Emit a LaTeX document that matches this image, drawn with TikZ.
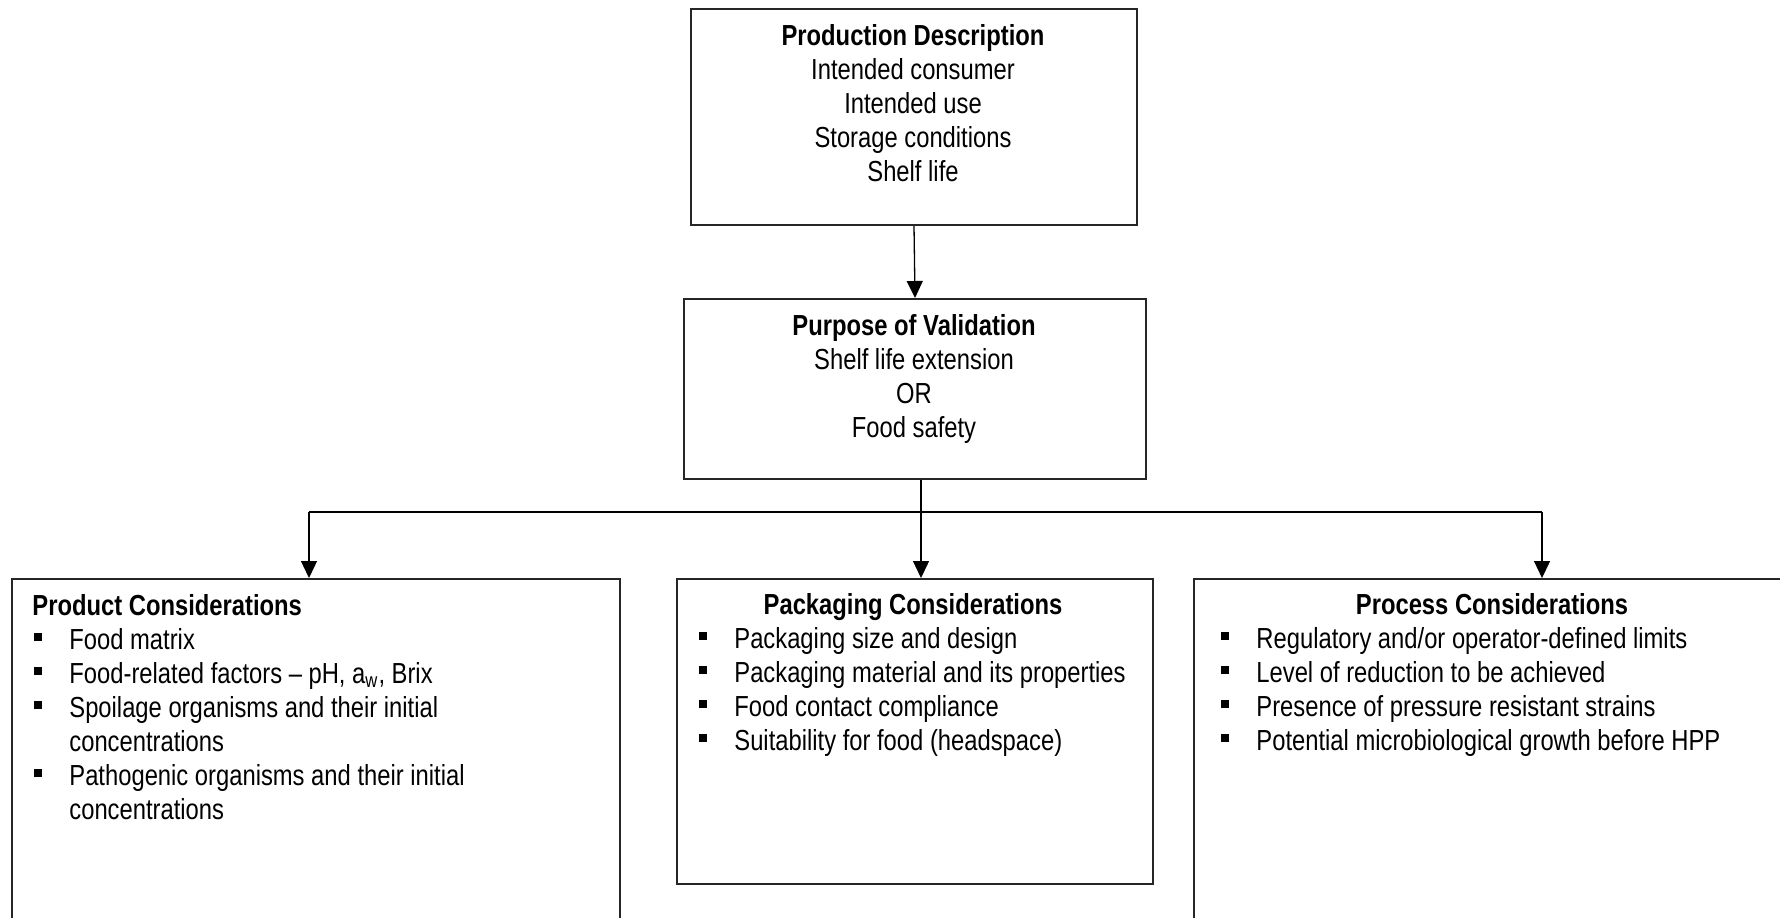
\documentclass[tikz,border=0pt]{standalone}
\usepackage{fontspec}
\setmainfont[FakeStretch=0.82]{Liberation Sans}
\usetikzlibrary{arrows.meta}

\newcommand{\bul}{\makebox[18pt][l]{\hspace{0.5pt}\rule[4pt]{4pt}{4pt}}}
\newcommand{\cont}{\hspace*{18pt}}

\begin{document}
\begin{tikzpicture}[x=0.5pt, y=-0.5pt,
    box/.style={draw=black!85, line width=1pt, anchor=north west, inner sep=0pt},
    txt/.style={font=\fontsize{14.5}{17}\selectfont, inner sep=0pt, anchor=base},
    head/.style={txt, font=\fontsize{14.5}{17}\selectfont\bfseries},
    link/.style={line width=0.65pt, -{Triangle[length=8.5pt, width=8pt]}}]
    \useasboundingbox (0,0) rectangle (1780,917);

    % Production description
    \node[box, minimum width=223pt, minimum height=108pt] (desc) at (690,8) {};
    \node[head] (desctitle) at (913,45) {Production Description};
    \foreach \t [count=\i] in {Intended consumer, Intended use, Storage conditions, Shelf life}
        \node[txt] at (913,45+34*\i) {\t};

    % Purpose of validation
    \node[box, minimum width=231pt, minimum height=90pt] (purp) at (683,298) {};
    \node[head] (purptitle) at (914,335) {Purpose of Validation};
    \foreach \t [count=\i] in {Shelf life extension, OR, Food safety}
        \node[txt] at (914,335+34*\i) {\t};

    % Three considerations
    \node[box, minimum width=304pt, minimum height=180pt] (prod) at (11,578) {};
    \node[head, anchor=base west] (prodtitle) at (32,615) {Product Considerations};
    \foreach \t [count=\i] in {{\bul Food matrix},
            {\bul Food-related factors – pH, a\textsubscript{w}, Brix},
            {\bul Spoilage organisms and their initial},
            {\cont concentrations},
            {\bul Pathogenic organisms and their initial},
            {\cont concentrations}}
        \node[txt, anchor=base west] at (33,615+34*\i) {\t};

    \node[box, minimum width=238pt, minimum height=152.5pt] (pack) at (676,578) {};
    \node[head] (packtitle) at (913,614) {Packaging Considerations};
    \foreach \t [count=\i] in {Packaging size and design, Packaging material and its properties,
            Food contact compliance, Suitability for food (headspace)}
        \node[txt, anchor=base west] at (698,614+34*\i) {\bul\t};

    \node[box, minimum width=300pt, minimum height=180pt] (proc) at (1193,578) {};
    \node[head] (proctitle) at (1492,614) {Process Considerations};
    \foreach \t [count=\i] in {Regulatory and/or operator-defined limits, Level of reduction to be achieved,
            Presence of pressure resistant strains, Potential microbiological growth before HPP}
        \node[txt, anchor=base west] at (1220,614+34*\i) {\bul\t};

    % Connectors
    \coordinate (split) at (921,512);
    \coordinate (left) at (309,512);
    \coordinate (right) at (1542,512);
    \draw[link] (desc.south) -- (purp.north);
    \draw[line width=0.65pt] (left) -- (right);
    \draw[link] (split |- purp.south) -- (split |- pack.north);
    \draw[link] (left) -- (left |- prod.north);
    \draw[link] (right) -- (right |- proc.north);
\end{tikzpicture}
\end{document}
